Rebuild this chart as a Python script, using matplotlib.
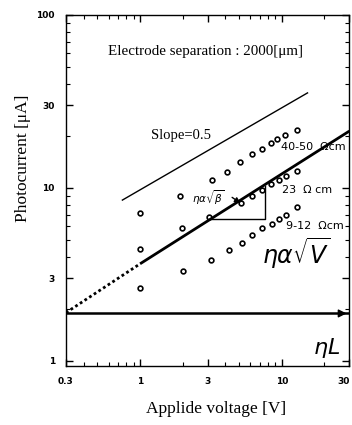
import matplotlib
matplotlib.use("Agg")
import matplotlib.pyplot as plt
from matplotlib.ticker import FixedLocator, LogLocator, NullFormatter

# ---DATA---#
# 40-50 ohm cm
v_hi = [1.0, 1.91, 3.21, 4.10, 5.06, 6.15, 7.23, 8.37, 9.22, 10.5, 12.8]
i_hi = [7.17, 8.99, 11.1, 12.4, 14.1, 15.7, 16.8, 18.2, 19.2, 20.2, 21.6]
# 23 ohm cm
v_mid = [1.0, 1.98, 3.06, 5.14, 6.15, 7.23, 8.37, 9.53, 10.8, 12.8]
i_mid = [4.44, 5.87, 6.80, 8.19, 8.99, 9.73, 10.5, 11.1, 11.7, 12.5]
# 9-12 ohm cm
v_lo = [1.0, 2.01, 3.16, 4.24, 5.23, 6.15, 7.23, 8.50, 9.53, 10.7, 12.8]
i_lo = [2.64, 3.31, 3.84, 4.38, 4.81, 5.35, 5.87, 6.19, 6.62, 6.98, 7.77]

# fitted sqrt(V) line: dotted part and solid part
fit_dot_v = [0.3, 1.0]
fit_dot_i = [1.9, 3.64]
fit_v = [1.0, 30.0]
fit_i = [3.64, 21.3]
# slope=0.5 guide line
slope_v = [0.75, 15.2]
slope_i = [8.5, 35.4]
# eta L level
eta_l = 1.88
# triangle under the fit line
tri_v = [3.16, 7.59, 7.59]
tri_i = [6.6, 6.6, 10.2]

xticks = [0.3, 1, 3, 10, 30]
xlabels = ["0.3", "1", "3", "10", "30"]
yticks = [1, 3, 10, 30, 100]
ylabels = ["1", "3", "10", "30", "100"]

##########
# FIGURE #
##########
f = plt.figure(figsize=(3.52, 4.25), dpi=100)
ax = f.add_axes([0.1875, 0.139, 0.805, 0.826])
ax.set_xscale("log")
ax.set_yscale("log")
ax.set_xlim(0.3, 30)
ax.set_ylim(0.935, 100)

mk = dict(ls="none", marker="o", ms=3.4, mfc="white", mec="black", mew=1.2)
ax.plot(v_hi, i_hi, **mk)
ax.plot(v_mid, i_mid, **mk)
ax.plot(v_lo, i_lo, **mk)

ax.plot(fit_dot_v, fit_dot_i, color="black", lw=2.0, ls=(0, (1, 1)))
ax.plot(fit_v, fit_i, color="black", lw=2.0, solid_capstyle="butt")
ax.plot(slope_v, slope_i, color="black", lw=1.0)
ax.axhline(eta_l, color="black", lw=1.8)
ax.plot(tri_v, tri_i, color="black", lw=1.0)

# ---TEXT---#
serif = "Liberation Serif"
ax.text(0.148, 0.895, "Electrode separation : 2000[\u03bcm]", transform=ax.transAxes,
        fontsize=10.8, family=serif, va="center")
ax.text(0.3, 0.655, "Slope=0.5", transform=ax.transAxes, fontsize=10.5,
        family=serif, va="center")
ax.text(0.758, 0.625, "40-50  \u03a9cm", transform=ax.transAxes, fontsize=8,
        va="center")
ax.text(0.762, 0.5, "23  \u03a9 cm", transform=ax.transAxes, fontsize=8,
        va="center")
ax.text(0.775, 0.398, "9-12  \u03a9cm", transform=ax.transAxes, fontsize=8,
        va="center")
ax.text(0.69, 0.32, r"$\eta\alpha\sqrt{V}$", transform=ax.transAxes,
        fontsize=17, va="center")
ax.text(0.87, 0.05, r"$\eta L$", transform=ax.transAxes, fontsize=16,
        va="center")
ax.text(0.445, 0.479, r"$\eta\alpha\sqrt{\beta}$", transform=ax.transAxes,
        fontsize=7.5, va="center")
ax.annotate("", xy=(5.3, 8.0), xytext=(4.3, 9.0),
            arrowprops=dict(arrowstyle="-|>", color="black", lw=1.0,
                            mutation_scale=8))
ax.annotate("", xy=(30, eta_l), xytext=(26, eta_l),
            arrowprops=dict(arrowstyle="-|>", color="black", lw=1.0,
                            mutation_scale=12), annotation_clip=False)

# ---AXES---#
ax.xaxis.set_major_locator(FixedLocator(xticks))
ax.set_xticklabels(xlabels)
ax.yaxis.set_major_locator(FixedLocator(yticks))
ax.set_yticklabels(ylabels)
ax.xaxis.set_minor_locator(LogLocator(base=10, subs=range(2, 10)))
ax.yaxis.set_minor_locator(LogLocator(base=10, subs=range(2, 10)))
ax.xaxis.set_minor_formatter(NullFormatter())
ax.yaxis.set_minor_formatter(NullFormatter())
ax.tick_params(which="both", direction="in", top=True, right=True)
ax.tick_params(which="major", length=5, width=1.0, labelsize=6.5, pad=8)
ax.tick_params(which="minor", length=3, width=0.8)
for lab in ax.get_xticklabels() + ax.get_yticklabels():
    lab.set_fontweight("bold")
ax.get_xticklabels()[-1].set_horizontalalignment("right")
for s in ax.spines.values():
    s.set_linewidth(1.0)

ax.set_xlabel("Applide voltage [V]", family=serif, fontsize=12.5)
ax.xaxis.set_label_coords(0.53, -0.1)
ax.set_ylabel("Photocurrent [\u03bcA]", family=serif, fontsize=12.5)
ax.yaxis.set_label_coords(-0.125, 0.59)

plt.savefig("out.png", dpi=100)
